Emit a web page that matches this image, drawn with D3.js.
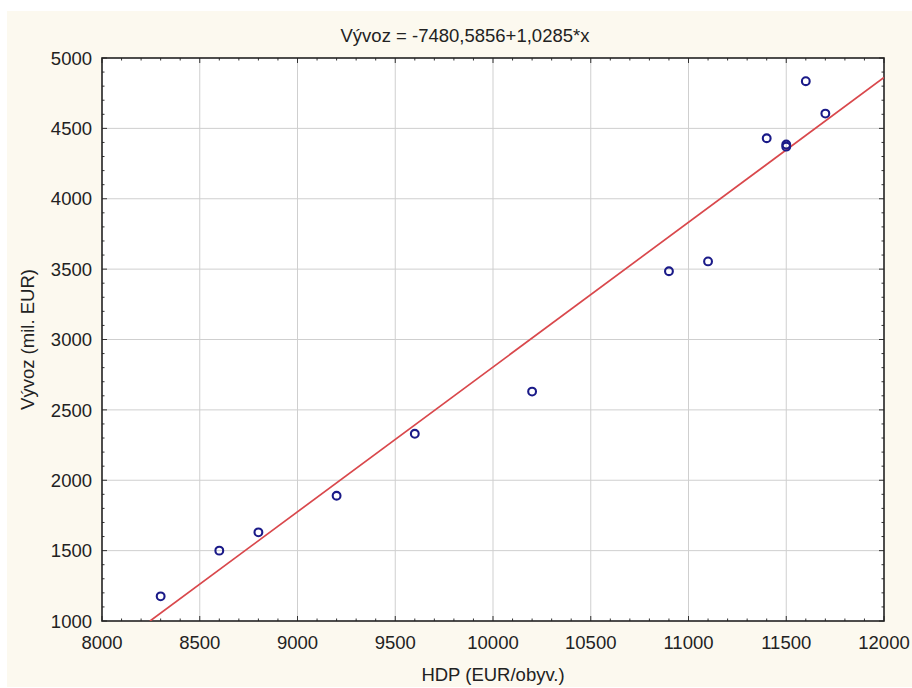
<!DOCTYPE html>
<meta charset="utf-8">
<style>
body {
  margin: 0;
  background: #fff;
}
text {
  font-family: "Liberation Sans", Arial, sans-serif;
  fill: #222;
}
.grid line {
  stroke: #cfcfcf;
  stroke-width: 1px;
}
.tick-mark {
  stroke: #333;
  stroke-width: 1px;
}
</style>
<body>
<script src="https://d3js.org/d3.v7.min.js"></script>
<script>
var width = 912,
    height = 688;

var margin = {top: 58, right: 28, bottom: 67, left: 102};

// data
var hdp = [8300, 8600, 8800, 9200, 9600, 10200, 10900, 11100, 11400, 11500, 11500, 11600, 11700];
var vyvoz = [1175, 1500, 1630, 1890, 2330, 2630, 3485, 3555, 4430, 4370, 4385, 4835, 4605];
var xTicks = [8000, 8500, 9000, 9500, 10000, 10500, 11000, 11500, 12000];
var yTicks = [1000, 1500, 2000, 2500, 3000, 3500, 4000, 4500, 5000];
var intercept = -7480.5856,
    slope = 1.0285;
var title = "Vývoz = -7480,5856+1,0285*x";
var xTitle = "HDP (EUR/obyv.)";
var yTitle = "Vývoz (mil. EUR)";

var svg = d3.select("body").append("svg")
    .attr("width", width)
    .attr("height", height);

// cream panel
svg.append("rect")
    .attr("x", 7)
    .attr("y", 11)
    .attr("width", width - 7)
    .attr("height", height - 12)
    .attr("fill", "#fcf9ef");

var x = d3.scaleLinear().domain([8000, 12000]).range([margin.left, width - margin.right]);
var y = d3.scaleLinear().domain([1000, 5000]).range([height - margin.bottom, margin.top]);

var x0 = x.range()[0], x1 = x.range()[1],
    y0 = y.range()[0], y1 = y.range()[1];

svg.append("rect")
    .attr("x", x0)
    .attr("y", y1)
    .attr("width", x1 - x0)
    .attr("height", y0 - y1)
    .attr("fill", "#fff");

// grid
var grid = svg.append("g").attr("class", "grid");
grid.selectAll(".vx")
    .data(xTicks.slice(1, -1))
  .enter().append("line")
    .attr("x1", d => x(d)).attr("x2", d => x(d))
    .attr("y1", y1).attr("y2", y0);
grid.selectAll(".hy")
    .data(yTicks.slice(1, -1))
  .enter().append("line")
    .attr("x1", x0).attr("x2", x1)
    .attr("y1", d => y(d)).attr("y2", d => y(d));

// inside ticks on all four sides
var xMinor = d3.range(8100, 12000, 100).filter(d => d % 500 != 0);
var yMinor = d3.range(1100, 5000, 100).filter(d => d % 500 != 0);
var ticks = svg.append("g");

function xTickMarks(data, len) {
  ticks.selectAll(null).data(data).enter().append("line")
      .attr("class", "tick-mark")
      .attr("x1", d => x(d)).attr("x2", d => x(d))
      .attr("y1", y0).attr("y2", y0 - len);
  ticks.selectAll(null).data(data).enter().append("line")
      .attr("class", "tick-mark")
      .attr("x1", d => x(d)).attr("x2", d => x(d))
      .attr("y1", y1).attr("y2", y1 + len);
}
function yTickMarks(data, len) {
  ticks.selectAll(null).data(data).enter().append("line")
      .attr("class", "tick-mark")
      .attr("y1", d => y(d)).attr("y2", d => y(d))
      .attr("x1", x0).attr("x2", x0 + len);
  ticks.selectAll(null).data(data).enter().append("line")
      .attr("class", "tick-mark")
      .attr("y1", d => y(d)).attr("y2", d => y(d))
      .attr("x1", x1).attr("x2", x1 - len);
}
xTickMarks(xTicks, 5);
xTickMarks(xMinor, 2.5);
yTickMarks(yTicks, 5);
yTickMarks(yMinor, 2.5);

// tick labels
svg.append("g").selectAll("text")
    .data(xTicks)
  .enter().append("text")
    .attr("x", d => x(d))
    .attr("y", y0 + 28)
    .attr("text-anchor", "middle")
    .style("font-size", "18.5px")
    .text(d => d);

svg.append("g").selectAll("text")
    .data(yTicks)
  .enter().append("text")
    .attr("x", x0 - 10)
    .attr("y", d => y(d))
    .attr("dy", "0.36em")
    .attr("text-anchor", "end")
    .style("font-size", "18.5px")
    .text(d => d);

// frame
svg.append("rect")
    .attr("x", x0)
    .attr("y", y1)
    .attr("width", x1 - x0)
    .attr("height", y0 - y1)
    .attr("fill", "none")
    .attr("stroke", "#222")
    .attr("stroke-width", 1.6);

// regression line, clipped to the plot
svg.append("clipPath").attr("id", "plot")
  .append("rect")
    .attr("x", x0).attr("y", y1)
    .attr("width", x1 - x0).attr("height", y0 - y1);

var xs = [(1000 - intercept) / slope, 12000];
svg.append("line")
    .attr("clip-path", "url(#plot)")
    .attr("x1", x(xs[0])).attr("y1", y(intercept + slope * xs[0]))
    .attr("x2", x(xs[1])).attr("y2", y(intercept + slope * xs[1]))
    .attr("stroke", "#d9484c")
    .attr("stroke-width", 1.7);

// points
svg.append("g").selectAll("circle")
    .data(hdp.map((h, i) => [h, vyvoz[i]]))
  .enter().append("circle")
    .attr("cx", d => x(d[0]))
    .attr("cy", d => y(d[1]))
    .attr("r", 3.9)
    .attr("fill", "none")
    .attr("stroke", "#1a1a88")
    .attr("stroke-width", 2.1);

// titles
svg.append("text")
    .attr("x", 465)
    .attr("y", 42)
    .attr("text-anchor", "middle")
    .style("font-size", "18.5px")
    .text(title);

svg.append("text")
    .attr("x", (x0 + x1) / 2)
    .attr("y", 681)
    .attr("text-anchor", "middle")
    .style("font-size", "18.5px")
    .text(xTitle);

svg.append("text")
    .attr("transform", "translate(34," + ((y0 + y1) / 2) + ") rotate(-90)")
    .attr("text-anchor", "middle")
    .style("font-size", "18.5px")
    .text(yTitle);
</script>
</body>
